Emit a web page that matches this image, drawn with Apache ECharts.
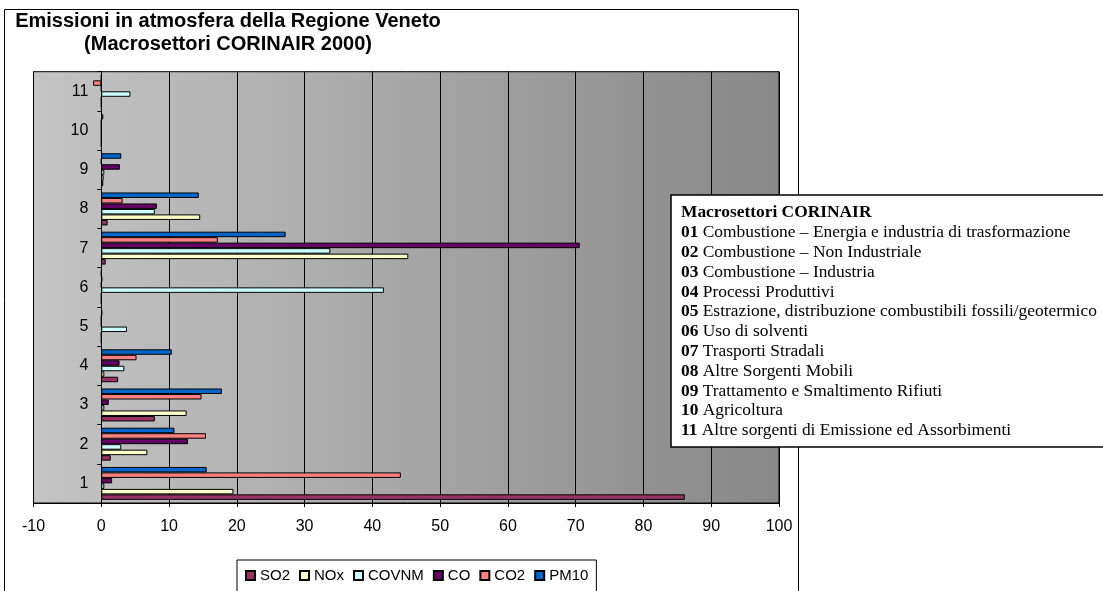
<!DOCTYPE html>
<html>
<head>
<meta charset="utf-8">
<script src="https://cdn.jsdelivr.net/npm/echarts@6/dist/echarts.min.js"></script>
<style>
html,body{margin:0;padding:0;background:#fff;}
#c{width:1103px;height:591px;}
</style>
</head>
<body>
<div id="c"></div>
<script>
var categories = ['1','2','3','4','5','6','7','8','9','10','11'];
var so2   = [86.1, 1.4, 7.9, 2.5, 0, 0, 0.65, 0.94, 0.3, 0, 0];
var nox   = [19.5, 6.8, 12.6, 0.45, 0, 0, 45.3, 14.6, 0.35, 0, 0];
var covnm = [0.45, 2.95, 0.45, 3.4, 3.8, 41.7, 33.8, 7.9, 0.45, 0, 4.3];
var co    = [1.6, 12.8, 1.1, 2.7, 0, 0, 70.6, 8.2, 2.75, 0, 0];
var co2   = [44.2, 15.45, 14.8, 5.2, 0, 0.15, 17.2, 3.15, 0, 0, -1.2];
var pm10  = [15.55, 10.8, 17.8, 10.4, 0.15, 0, 27.2, 14.4, 2.95, 0.3, 0];
var seriesNames = ['SO2','NOx','COVNM','CO','CO2','PM10'];
var seriesColors = ['#993366','#FFFFCC','#CCFFFF','#660066','#FF8080','#0066CC'];
var titleLines = ['Emissioni in atmosfera della Regione Veneto','(Macrosettori CORINAIR 2000)'];
var boxTitle = 'Macrosettori CORINAIR';
var boxCodes = ['01','02','03','04','05','06','07','08','09','10','11'];
var boxLabels = ['Combustione \u2013 Energia e industria di trasformazione','Combustione \u2013 Non Industriale','Combustione \u2013 Industria','Processi Produttivi','Estrazione, distribuzione combustibili fossili/geotermico','Uso di solventi','Trasporti Stradali','Altre Sorgenti Mobili','Trattamento e Smaltimento Rifiuti','Agricoltura','Altre sorgenti di Emissione ed Assorbimenti'];

var allData = [so2, nox, covnm, co, co2, pm10];
var chart = echarts.init(document.getElementById('c'), null, {renderer:'canvas'});

var boxText = '{h|' + boxTitle + '}\n' + boxCodes.map(function(c,i){return '{b|'+c+'} '+boxLabels[i];}).join('\n');

// reversed so that SO2 sits at the bottom of each category
var seriesList = [];
for (var i = seriesNames.length - 1; i >= 0; i--) {
  seriesList.push({
    name: seriesNames[i], type: 'bar', data: allData[i],
    barGap: '0%', barCategoryGap: '16%',
    itemStyle: {color: seriesColors[i], borderColor: '#000', borderWidth: 1}
  });
}

var option = {
  animation: false,
  backgroundColor: '#fff',
  textStyle: {fontFamily: 'Arial, Liberation Sans, sans-serif'},
  grid: {
    left: 33.5, right: 324, top: 71.7, bottom: 88,
    outerBoundsMode: 'none',
    show: true,
    borderColor: '#000', borderWidth: 1,
    backgroundColor: {
      type: 'linear', x: 0, y: 0, x2: 1, y2: 0,
      colorStops: [{offset: 0, color: '#c4c4c4'}, {offset: 1, color: '#888888'}]
    }
  },
  legend: {
    left: 237, top: 560,
    padding: [8, 8, 30, 8],
    backgroundColor: '#fff',
    borderColor: '#000', borderWidth: 1,
    itemWidth: 9, itemHeight: 9, itemGap: 9,
    icon: 'rect',
    textStyle: {fontFamily: 'Arial, Liberation Sans', fontSize: 15, color: '#000', padding: [0,0,0,0]},
    data: seriesNames
  },
  xAxis: {
    type: 'value', min: -10, max: 100, interval: 10,
    axisLine: {show: true, lineStyle: {color: '#000', width: 1}},
    axisTick: {show: true, inside: false, length: 4, lineStyle: {color: '#000'}},
    axisLabel: {fontFamily: 'Arial, Liberation Sans', fontSize: 16, color: '#000', margin: 16},
    splitLine: {show: true, lineStyle: {color: '#000', width: 1}}
  },
  yAxis: {
    type: 'category', data: categories,
    offset: -67.8,
    axisLine: {show: true, onZero: false, lineStyle: {color: '#000', width: 1}},
    axisTick: {show: true, inside: false, length: 4, lineStyle: {color: '#000'}},
    axisLabel: {fontFamily: 'Arial, Liberation Sans', fontSize: 16, color: '#000', margin: 13}
  },
  series: seriesList,
  graphic: [
    {type: 'rect', z: -1, shape: {x: 4.5, y: 9.5, width: 794, height: 600}, style: {fill: null, stroke: '#000', lineWidth: 1}},
    {type: 'text', x: 228, y: 10, style: {text: titleLines.join('\n'), font: 'bold 20px Arial, "Liberation Sans"', fill: '#000', align: 'center', lineHeight: 23}},
    {type: 'rect', z: 10, shape: {x: 671, y: 195, width: 450, height: 252}, style: {fill: '#fff', stroke: '#000', lineWidth: 1.5}},
    {type: 'text', z: 11, x: 681, y: 203, style: {
      text: boxText, fill: '#000', font: '17.4px "Liberation Serif", "Times New Roman", serif', lineHeight: 19.8,
      rich: {
        h: {fontWeight: 'bold', fontFamily: 'Liberation Serif', fontSize: 17.4, lineHeight: 19.8},
        b: {fontWeight: 'bold', fontFamily: 'Liberation Serif', fontSize: 17.4, lineHeight: 19.8}
      }
    }}
  ]
};
chart.setOption(option);
</script>
</body>
</html>
